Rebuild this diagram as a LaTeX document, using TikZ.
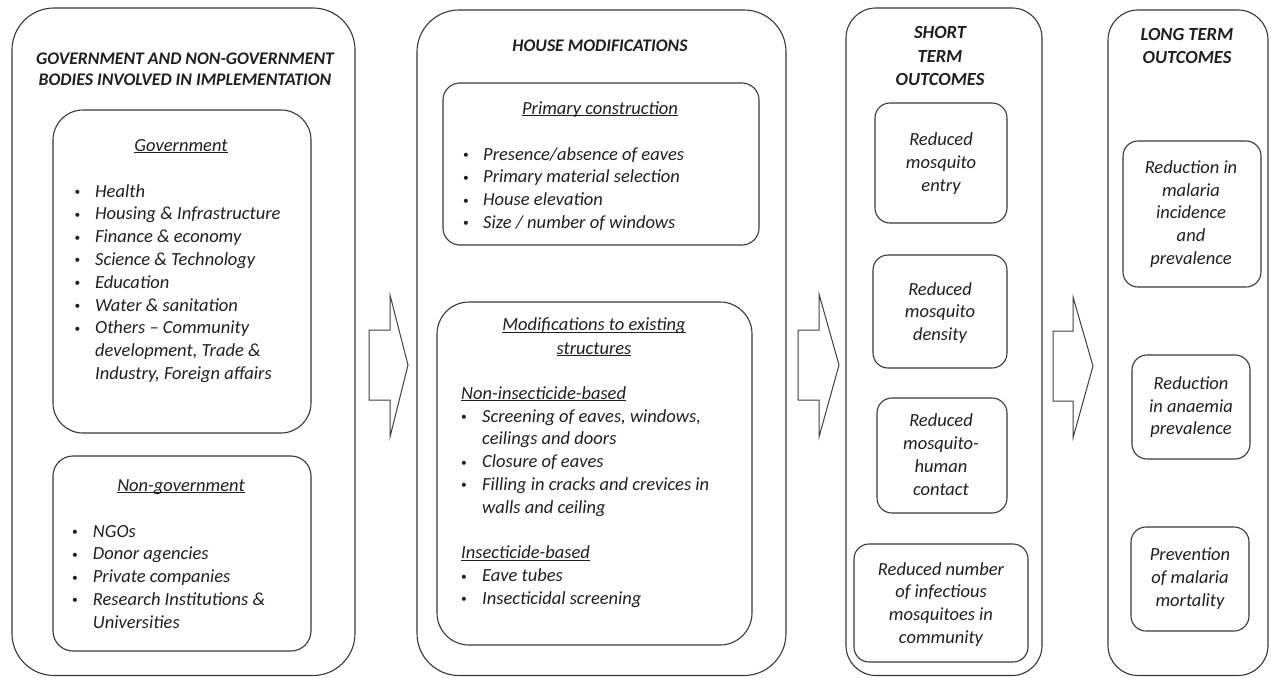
\documentclass[tikz,border=0pt]{standalone}
\usepackage{fontspec}
\setmainfont{Carlito}
\usepackage{array}
\usepackage{graphicx}
\usetikzlibrary{fit}
\newsavebox\ulbox
\newcommand{\ul}[1]{\sbox\ulbox{#1}\rlap{\rule[-1.9pt]{\wd\ulbox}{0.9pt}}\usebox\ulbox}
\newcommand{\bu}{\raisebox{1.6pt}{\scalebox{0.62}{\upshape\textbullet}}}
\newcommand{\clines}[1]{\begin{tabular}[t]{@{}c@{}}#1\end{tabular}}
\newcommand{\blines}[2]{\begin{tabular}[t]{@{}p{#1}@{}l@{}}#2\end{tabular}}
\tikzset{
  frame/.style={draw=black!78, line width=1.1pt, inner sep=0pt, fill=none},
  outerbox/.style={frame, rounded corners=42pt},
  midbox/.style={frame, rounded corners=30pt},
  subbox/.style={frame, rounded corners=17pt},
  txt/.style={inner sep=0pt, text=black!88, font=\fontsize{18.5}{22.8}\selectfont\itshape},
  ttl/.style={txt, font=\fontsize{18.5}{22.8}\selectfont\bfseries\itshape},
  blockarrow/.style={draw=black!75, line width=1pt, line join=miter, fill=white},
}
\begin{document}
\begin{tikzpicture}[x=1pt,y=-1pt]
\useasboundingbox[fill=white] (0,0) rectangle (1271,677);

% outer columns
\node[outerbox, fit={(12,8) (355,675.5)}] (govbox) {};
\node[outerbox, fit={(417,10) (786,675.5)}] (housebox) {};
\node[midbox, fit={(846,8) (1042,675.5)}] (shortbox) {};
\node[midbox, fit={(1108,10) (1268,675.5)}] (longbox) {};

% inner boxes
\node[midbox, fit={(53,110) (311,433)}] (govin) {};
\node[subbox, rounded corners=20pt, fit={(53,456) (311,651)}] (ngoin) {};
\node[subbox, fit={(443,83) (759,245)}] (primin) {};
\node[midbox, rounded corners=32pt, fit={(437,302) (752,645)}] (modin) {};
\node[subbox, rounded corners=15pt, fit={(875,103) (1007,223)}] (s1) {};
\node[subbox, rounded corners=15pt, fit={(873,255) (1007,368)}] (s2) {};
\node[subbox, rounded corners=15pt, fit={(877,398) (1007,513)}] (s3) {};
\node[subbox, rounded corners=15pt, fit={(854,544) (1028,662)}] (s4) {};
\node[subbox, rounded corners=15pt, fit={(1123,141) (1261,287)}] (l1) {};
\node[subbox, rounded corners=15pt, fit={(1132,355) (1250,459)}] (l2) {};
\node[subbox, rounded corners=15pt, fit={(1131,527) (1249,631)}] (l3) {};

% block arrows
\draw[blockarrow] (369,330) -- (390,330) -- (390,295) -- (408,365) -- (390,437) -- (390,400) -- (369,400) -- cycle;
\draw[blockarrow] (798,330) -- (819,330) -- (819,294) -- (839,365) -- (819,437) -- (819,400) -- (798,400) -- cycle;
\draw[blockarrow] (1053,331) -- (1073,331) -- (1073,297) -- (1093,366) -- (1073,438) -- (1073,401) -- (1053,401) -- cycle;

% column 1 text
\node[ttl, font=\fontsize{17.7}{21.2}\selectfont\bfseries\itshape, anchor=base] (govtitle) at (185,64)
  {\clines{GOVERNMENT AND NON-GOVERNMENT\\BODIES INVOLVED IN IMPLEMENTATION}};
\node[txt, anchor=base] (govhead) at (181,151) {\ul{Government}};
\node[txt, anchor=base west] (govlist) at (74.5,197) {\blines{20.5pt}{%
 \bu & Health\\
 \bu & Housing \& Infrastructure\\
 \bu & Finance \& economy\\
 \bu & Science \& Technology\\
 \bu & Education\\
 \bu & Water \& sanitation\\
 \bu & Others -- Community\\
     & development, Trade \&\\
     & Industry, Foreign affairs}};
\node[txt, anchor=base] (ngohead) at (181,491) {\ul{Non-government}};
\node[txt, anchor=base west] (ngolist) at (72,537) {\blines{20.7pt}{%
 \bu & NGOs\\
 \bu & Donor agencies\\
 \bu & Private companies\\
 \bu & Research Institutions \&\\
     & Universities}};

% column 2 text
\node[ttl, font=\fontsize{17.7}{22.8}\selectfont\bfseries\itshape, anchor=base] (housetitle) at (600,52) {HOUSE MODIFICATIONS};
\node[txt, anchor=base] (primhead) at (600,114) {\ul{Primary construction}};
\node[txt, anchor=base west] (primlist) at (463,160) {\blines{20pt}{%
 \bu & Presence/absence of eaves\\
 \bu & Primary material selection\\
 \bu & House elevation\\
 \bu & Size / number of windows}};
\node[txt, font=\fontsize{18.5}{23.3}\selectfont\itshape, anchor=base] (modhead) at (594,330.7)
  {\clines{\ul{Modifications to existing}\\\ul{structures}}};
\node[txt, anchor=base west] (modlist) at (461,399.3) {\blines{21pt}{%
 \multicolumn{2}{@{}l@{}}{\ul{Non-insecticide-based}}\\
 \bu & Screening of eaves, windows,\\
     & ceilings and doors\\
 \bu & Closure of eaves\\
 \bu & Filling in cracks and crevices in\\
     & walls and ceiling\\
     & \\
 \multicolumn{2}{@{}l@{}}{\ul{Insecticide-based}}\\
 \bu & Eave tubes\\
 \bu & Insecticidal screening}};

% column 3 text
\node[ttl, font=\fontsize{18.5}{23.5}\selectfont\bfseries\itshape, anchor=base] (shorttitle) at (940,39)
  {\clines{SHORT\\TERM\\OUTCOMES}};
\node[txt, anchor=base] (s1t) at (941,145.7) {\clines{Reduced\\mosquito\\entry}};
\node[txt, anchor=base] (s2t) at (940,295) {\clines{Reduced\\mosquito\\density}};
\node[txt, anchor=base] (s3t) at (941,426.7) {\clines{Reduced\\mosquito-\\human\\contact}};
\node[txt, anchor=base] (s4t) at (941,575) {\clines{Reduced number\\of infectious\\mosquitoes in\\community}};

% column 4 text
\node[ttl, font=\fontsize{18.5}{23.3}\selectfont\bfseries\itshape, anchor=base] (longtitle) at (1187,40.7)
  {\clines{LONG TERM\\OUTCOMES}};
\node[txt, anchor=base] (l1t) at (1191,173.3) {\clines{Reduction in\\malaria\\incidence\\and\\prevalence}};
\node[txt, anchor=base] (l2t) at (1191,389.3) {\clines{Reduction\\in anaemia\\prevalence}};
\node[txt, anchor=base] (l3t) at (1190,560.7) {\clines{Prevention\\of malaria\\mortality}};
\end{tikzpicture}
\end{document}
